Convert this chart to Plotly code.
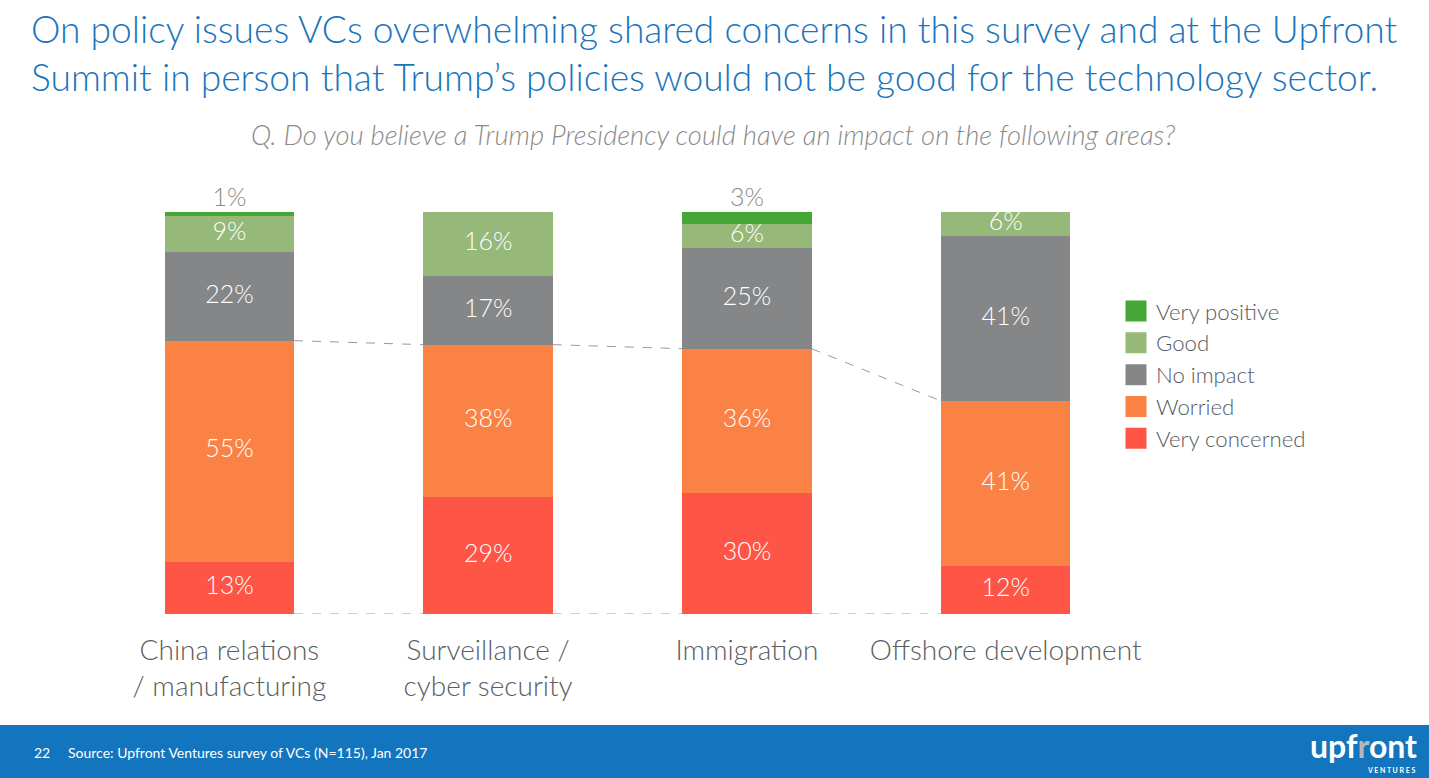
import plotly.graph_objects as go

# ---------------- data ----------------
categories = ["China relations<br>/ manufacturing", "Surveillance /<br>cyber security",
              "Immigration", "Offshore development"]
series_names = ["Very concerned", "Worried", "No impact", "Good", "Very positive"]
very_concerned = [13, 29, 30, 12]
worried = [55, 38, 36, 41]
no_impact = [22, 17, 25, 41]
good = [9, 16, 6, 6]
very_positive = [1, 0, 3, 0]

series_values = [very_concerned, worried, no_impact, good, very_positive]
series_colors = ["#FE5546", "#FA8245", "#858688", "#96B879", "#45A735"]

title_text = ("On policy issues VCs overwhelming shared concerns in this survey and at the Upfront<br>"
              "Summit in person that Trump\u2019s policies would not be good for the technology sector.")
subtitle_text = "Q. Do you believe a Trump Presidency could have an impact on the following areas?"
source_text = "Source: Upfront Ventures survey of VCs (N=115), Jan 2017"
page_number = "22"

FONT = "Lato"
W, H = 1429, 778
L, R, T, B = 99.5, 1135.5, 212, 614


def px2x(px):
    return (px - L) / (R - L)


def py2y(py):
    return (B - py) / (B - T)


fig = go.Figure()

# stacked bars
for name, vals, col in zip(series_names, series_values, series_colors):
    fig.add_trace(go.Bar(x=categories, y=vals, name=name, marker_color=col,
                         marker_line_width=0, width=0.5, showlegend=False,
                         hovertemplate="%{x}: %{y}%<extra>" + name + "</extra>"))

# labels computed from cumulative sums
in_x, in_y, in_t = [], [], []
out_x, out_y, out_t = [], [], []
base = [0] * len(categories)
for vals in series_values:
    for i, v in enumerate(vals):
        if v > 0:
            if v < 4:
                out_x.append(categories[i]); out_y.append(100); out_t.append(f"{v}%")
            else:
                in_x.append(categories[i]); in_y.append(base[i] + v / 2); in_t.append(f"{v}%")
        base[i] += v

fig.add_trace(go.Scatter(x=in_x, y=in_y, text=in_t, mode="text", showlegend=False,
                         textfont=dict(family=FONT, size=25, color="white", weight=300),
                         hoverinfo="skip", cliponaxis=False))
fig.add_trace(go.Scatter(x=out_x, y=out_y, text=out_t, mode="text", textposition="top center",
                         showlegend=False, hoverinfo="skip", cliponaxis=False,
                         textfont=dict(family=FONT, size=25, color="#8A8A8A", weight=300)))

# legend entries (top to bottom)
for name, col in reversed(list(zip(series_names, series_colors))):
    fig.add_trace(go.Scatter(x=[None], y=[None], mode="markers", name=name, legendgroup=name,
                             marker=dict(symbol="square", size=16, color=col,
                                         line=dict(color=col, width=5))))

# dashed connectors
shapes = []
cum_worried = [a + b for a, b in zip(very_concerned, worried)]
for i in range(len(categories) - 1):
    shapes.append(dict(type="line", xref="x", yref="y", x0=i + 0.25, x1=i + 0.75, y0=0, y1=0,
                       line=dict(color="#9A9A9A", width=1, dash="dash"), layer="below"))
    shapes.append(dict(type="line", xref="x", yref="y", x0=i + 0.25, x1=i + 0.75,
                       y0=cum_worried[i], y1=cum_worried[i + 1],
                       line=dict(color="#9A9A9A", width=1, dash="dash"), layer="below"))
# footer band
shapes.append(dict(type="rect", xref="paper", yref="paper", x0=px2x(-5), x1=px2x(W + 5),
                   y0=py2y(H + 5), y1=py2y(725), fillcolor="#1375BD", line_width=0, layer="below"))

annotations = [
    dict(text=title_text, x=px2x(28), y=py2y(4), xref="paper", yref="paper", xanchor="left",
         yanchor="top", align="left", showarrow=False,
         font=dict(family=FONT, size=37.2, color="#1B75BC", weight=300)),
    dict(text="<i>" + subtitle_text + "</i>", x=px2x(713), y=py2y(134), xref="paper", yref="paper",
         xanchor="center", yanchor="middle", showarrow=False,
         font=dict(family=FONT, size=27.4, color="#8C8C8C", weight=300)),
    dict(text=page_number, x=px2x(31), y=py2y(752), xref="paper", yref="paper", xanchor="left",
         yanchor="middle", showarrow=False, font=dict(family=FONT, size=14, color="white")),
    dict(text=source_text, x=px2x(65), y=py2y(752), xref="paper", yref="paper", xanchor="left",
         yanchor="middle", showarrow=False, font=dict(family=FONT, size=14, color="white")),
    dict(text="<b>upf<span style='color:#B8B8B8'>r</span>ont</b>", x=px2x(1420), y=py2y(745),
         xref="paper", yref="paper", xanchor="right", yanchor="middle", showarrow=False,
         font=dict(family=FONT, size=32, color="white")),
    dict(text="<b>V E N T U R E S</b>", x=px2x(1418), y=py2y(770), xref="paper", yref="paper",
         xanchor="right", yanchor="middle", showarrow=False,
         font=dict(family=FONT, size=7, color="white")),
]

fig.update_layout(
    width=W, height=H, barmode="stack", bargap=0.5,
    paper_bgcolor="white", plot_bgcolor="white",
    margin=dict(l=L, r=W - R, t=T, b=H - B, pad=0, autoexpand=False),
    font=dict(family=FONT, color="#5A5D61"),
    xaxis=dict(type="category", range=[-0.5, 3.5], showgrid=False, showline=False, zeroline=False,
               ticks="", ticklabelstandoff=17,
               tickfont=dict(family=FONT, size=28, color="#5A5D61", weight=300), fixedrange=True),
    yaxis=dict(range=[0, 100], visible=False, fixedrange=True),
    legend=dict(xref="container", yref="container", x=1116 / W, y=1 - 290 / H,
                xanchor="left", yanchor="top",
                font=dict(family=FONT, size=22.2, color="#555B61", weight=300),
                tracegroupgap=0, bgcolor="rgba(0,0,0,0)"),
    shapes=shapes, annotations=annotations, hovermode="closest",
)

fig.write_html("out.html", config={"displayModeBar": False},
               post_script="document.body.style.margin='0px';document.body.style.overflow='hidden';")
